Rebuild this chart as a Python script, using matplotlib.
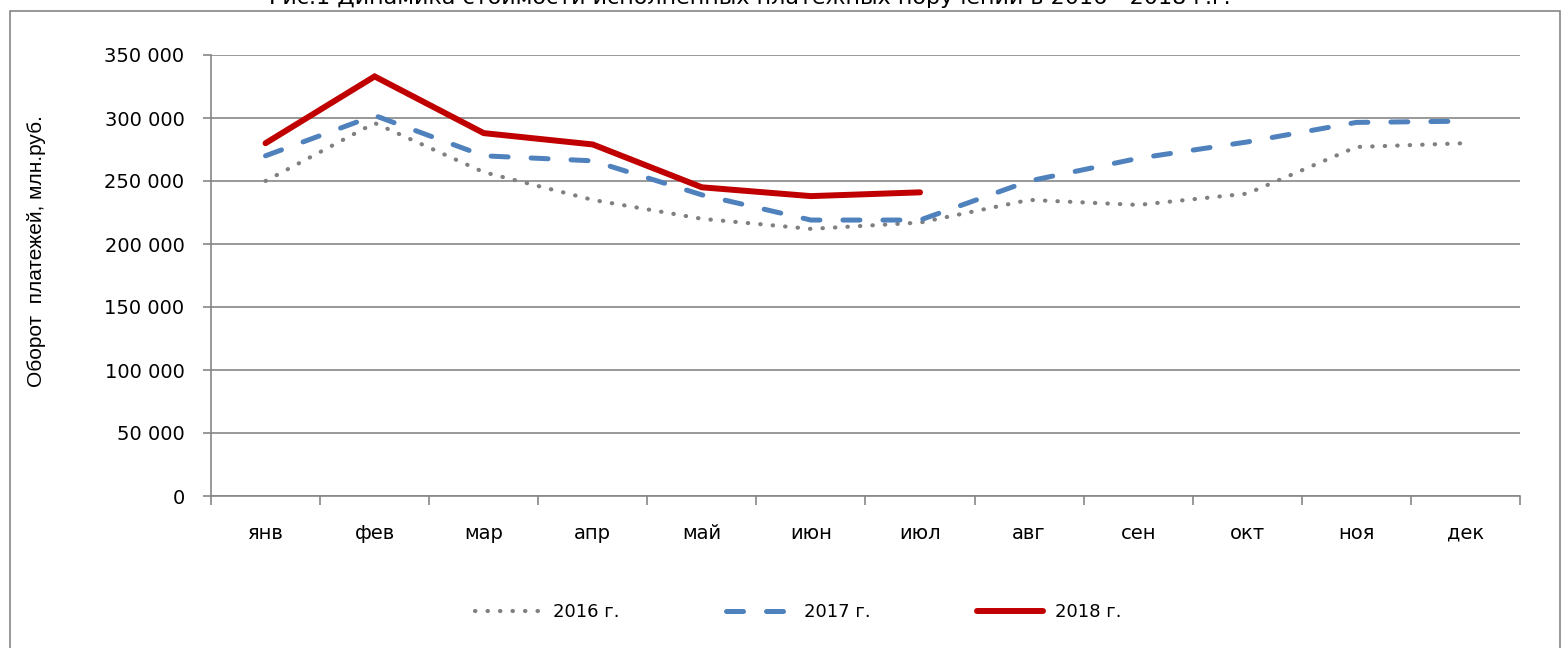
import matplotlib
matplotlib.use("Agg")
import matplotlib.pyplot as plt
from matplotlib.patches import Rectangle
from matplotlib.ticker import FuncFormatter, FixedLocator

months = ["янв", "фев", "мар", "апр", "май", "июн", "июл", "авг", "сен", "окт", "ноя", "дек"]
v2016 = [250000, 296000, 257000, 235000, 220000, 212000, 217000, 235000, 231000, 240000, 277000, 280000]
v2017 = [270000, 302000, 270000, 266000, 239000, 219000, 219000, 250000, 268000, 281000, 296500, 297500]
v2018 = [280000, 333000, 288000, 279000, 245000, 238000, 241000]
yticks = [0, 50000, 100000, 150000, 200000, 250000, 300000, 350000]
series_labels = ["2016 г.", "2017 г.", "2018 г."]
title = "Рис.1 Динамика стоимости исполненных платежных поручений в 2016 - 2018 г.г."
ylabel = "Оборот  платежей, млн.руб."

plt.rcParams['font.family'] = ['DejaVu Sans']

fig = plt.figure(figsize=(15.64, 6.48), dpi=100)
W, H = 1564, 648
ax = fig.add_axes([211 / W, (H - 496) / H, (1520 - 211) / W, (496 - 55) / H])

grid_c = "#868686"
x = list(range(len(months)))

l16, = ax.plot(x, v2016, color="#808080", lw=3.0, linestyle=(0, (0.1, 2.9)),
               dash_capstyle='round', label=series_labels[0], zorder=3)
l17, = ax.plot(x, v2017, color="#4F81BD", lw=3.6, linestyle=(0, (3.4, 4.6)),
               dash_capstyle='round', label=series_labels[1], zorder=4)
l18, = ax.plot(range(len(v2018)), v2018, color="#C00000", lw=4.3,
               solid_capstyle='round', solid_joinstyle='miter', label=series_labels[2], zorder=5)

ax.set_xlim(-0.5, len(months) - 0.5)
ax.set_ylim(0, 350000)
ax.set_yticks(yticks)
ax.yaxis.set_major_formatter(FuncFormatter(lambda v, p: f"{int(v):,}".replace(",", " ")))
ax.set_xticks(x)
ax.set_xticklabels(months)
ax.xaxis.set_minor_locator(FixedLocator([i - 0.5 for i in range(len(months) + 1)]))
ax.tick_params(axis='x', which='major', length=0, pad=20, labelsize=14)
ax.tick_params(axis='x', which='minor', length=6.5, color=grid_c, width=1.2, direction='out')
ax.tick_params(axis='y', length=6, color=grid_c, width=1.2, labelsize=14, pad=13)

ax.grid(axis='y', color=grid_c, lw=1.2)
ax.set_axisbelow(True)
for s in ['top', 'right']:
    ax.spines[s].set_visible(False)
for s in ['left', 'bottom']:
    ax.spines[s].set_color(grid_c)
    ax.spines[s].set_linewidth(1.2)

fig.text(37 / W, (H - 251) / H, ylabel, rotation=90, ha='center', va='center',
         fontsize=15, family=['Liberation Sans', 'DejaVu Sans'])
fig.text(750 / W, (H - 4) / H, title, ha='center', va='baseline', fontsize=16)

# outer chart frame
fig.patches.append(Rectangle((10 / W, -0.05), (1560 - 10) / W, (H - 11) / H + 0.05,
                             transform=fig.transFigure, fill=False, edgecolor=grid_c, lw=1.2))

leg = fig.legend(handles=[l16, l17, l18], labels=series_labels, loc='center',
                 bbox_to_anchor=(798 / W, (H - 612) / H), ncol=3, frameon=False,
                 fontsize=13, handlelength=3.65, handletextpad=0.67, columnspacing=5.9)

fig.savefig("out.png", dpi=100)
